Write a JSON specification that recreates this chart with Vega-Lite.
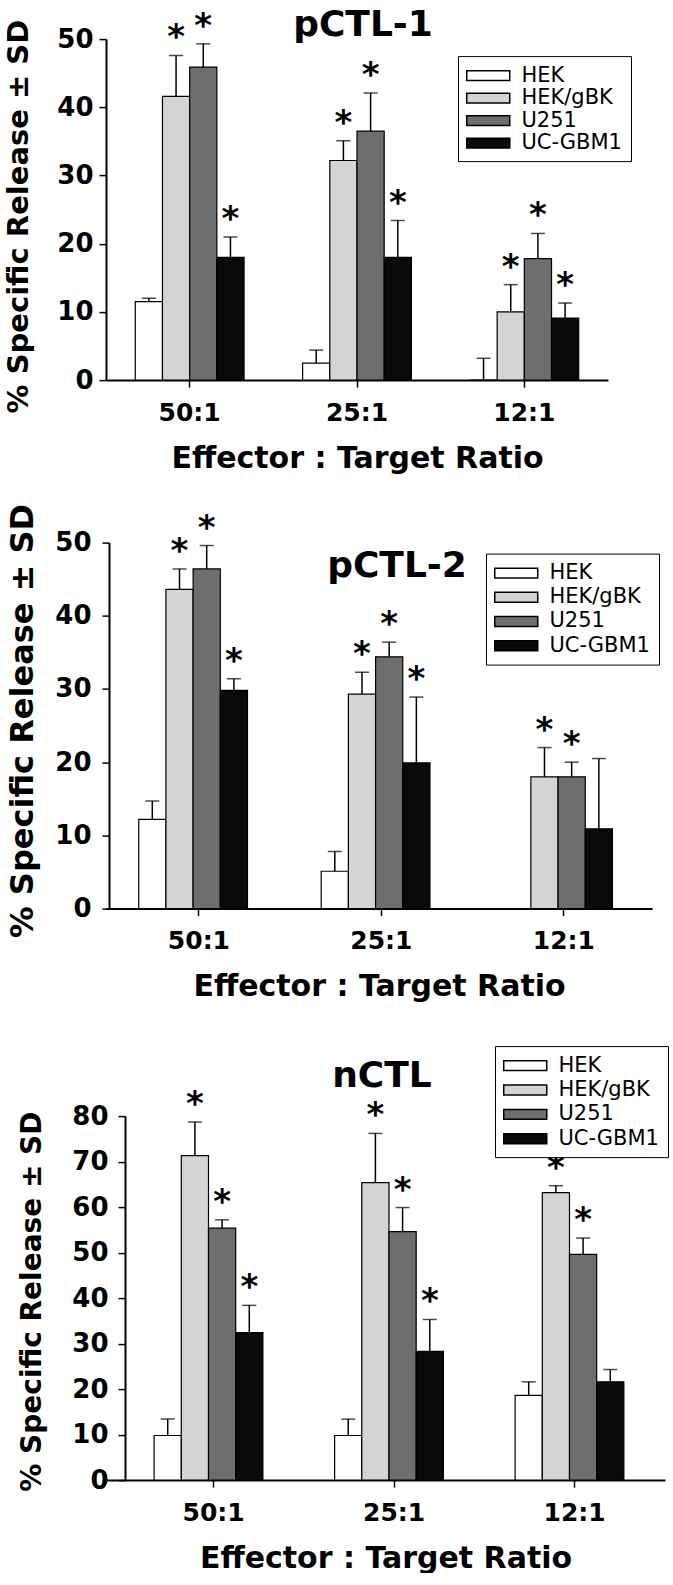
{
  "$schema": "https://vega.github.io/schema/vega-lite/v6.json",
  "background": "white",
  "padding": {"left": 4, "top": 6.1, "right": 0, "bottom": 0},
  "spacing": 29.5,
  "columns": 1,
  "align": "none",
  "resolve": {"scale": {"fill": "independent"}, "legend": {"fill": "independent"}},
  "config": {
    "view": {"stroke": null},
    "font": "DejaVu Sans",
    "axis": {
      "domainColor": "black", "domainWidth": 2, "tickColor": "black", "tickWidth": 1.5, "tickSize": 7,
      "labelFont": "DejaVu Sans", "labelFontWeight": "bold", "labelColor": "black",
      "titleFont": "DejaVu Sans", "titleFontWeight": "bold", "titleColor": "black", "grid": false
    },
    "axisX": {"labelAngle": 0, "labelFontSize": 25, "labelPadding": 13, "titleFontSize": 30, "titlePadding": 18},
    "axisY": {"labelFontSize": 26},
    "legend": {
      "title": null, "symbolType": "M-1,-0.46H3V0.46H-1Z", "symbolSize": 462,
      "symbolStrokeColor": "black", "symbolStrokeWidth": 1.5, "labelFont": "DejaVu Sans",
      "labelFontSize": 21, "labelColor": "black", "labelOffset": 32.5, "padding": 8,
      "strokeColor": "black", "fillColor": "white", "symbolOpacity": 1
    },
    "title": {"font": "DejaVu Sans", "fontWeight": "bold", "fontSize": 36, "color": "black", "baseline": "alphabetic", "anchor": "middle"}
  },
  "datasets": {
    "p1": [
      {"ratio": "50:1", "target": "HEK", "value": 11.5, "upper": 12.0, "star": ""},
      {"ratio": "50:1", "target": "HEK/gBK", "value": 41.6, "upper": 47.6, "star": "*"},
      {"ratio": "50:1", "target": "U251", "value": 45.9, "upper": 49.3, "star": "*"},
      {"ratio": "50:1", "target": "UC-GBM1", "value": 18.0, "upper": 21.0, "star": "*"},
      {"ratio": "25:1", "target": "HEK", "value": 2.5, "upper": 4.4, "star": ""},
      {"ratio": "25:1", "target": "HEK/gBK", "value": 32.2, "upper": 35.1, "star": "*"},
      {"ratio": "25:1", "target": "U251", "value": 36.5, "upper": 42.1, "star": "*"},
      {"ratio": "25:1", "target": "UC-GBM1", "value": 18.0, "upper": 23.4, "star": "*"},
      {"ratio": "12:1", "target": "HEK", "value": 0, "upper": 3.2, "star": ""},
      {"ratio": "12:1", "target": "HEK/gBK", "value": 10.0, "upper": 14.0, "star": "*"},
      {"ratio": "12:1", "target": "U251", "value": 17.8, "upper": 21.5, "star": "*"},
      {"ratio": "12:1", "target": "UC-GBM1", "value": 9.1, "upper": 11.3, "star": "*"}
    ],
    "p2": [
      {"ratio": "50:1", "target": "HEK", "value": 12.2, "upper": 14.7, "star": ""},
      {"ratio": "50:1", "target": "HEK/gBK", "value": 43.6, "upper": 46.4, "star": "*"},
      {"ratio": "50:1", "target": "U251", "value": 46.4, "upper": 49.6, "star": "*"},
      {"ratio": "50:1", "target": "UC-GBM1", "value": 29.8, "upper": 31.4, "star": "*"},
      {"ratio": "25:1", "target": "HEK", "value": 5.1, "upper": 7.8, "star": ""},
      {"ratio": "25:1", "target": "HEK/gBK", "value": 29.3, "upper": 32.3, "star": "*"},
      {"ratio": "25:1", "target": "U251", "value": 34.4, "upper": 36.4, "star": "*"},
      {"ratio": "25:1", "target": "UC-GBM1", "value": 19.9, "upper": 28.9, "star": "*"},
      {"ratio": "12:1", "target": "HEK/gBK", "value": 18.0, "upper": 22.0, "star": "*"},
      {"ratio": "12:1", "target": "U251", "value": 18.0, "upper": 20.0, "star": "*"},
      {"ratio": "12:1", "target": "UC-GBM1", "value": 10.9, "upper": 20.5, "star": ""}
    ],
    "p3": [
      {"ratio": "50:1", "target": "HEK", "value": 9.8, "upper": 13.4, "star": ""},
      {"ratio": "50:1", "target": "HEK/gBK", "value": 71.3, "upper": 78.7, "star": "*"},
      {"ratio": "50:1", "target": "U251", "value": 55.4, "upper": 57.2, "star": "*"},
      {"ratio": "50:1", "target": "UC-GBM1", "value": 32.4, "upper": 38.4, "star": "*"},
      {"ratio": "25:1", "target": "HEK", "value": 9.8, "upper": 13.4, "star": ""},
      {"ratio": "25:1", "target": "HEK/gBK", "value": 65.4, "upper": 76.2, "star": "*"},
      {"ratio": "25:1", "target": "U251", "value": 54.6, "upper": 59.9, "star": "*"},
      {"ratio": "25:1", "target": "UC-GBM1", "value": 28.3, "upper": 35.3, "star": "*"},
      {"ratio": "12:1", "target": "HEK", "value": 18.6, "upper": 21.6, "star": ""},
      {"ratio": "12:1", "target": "HEK/gBK", "value": 63.2, "upper": 64.7, "star": "*"},
      {"ratio": "12:1", "target": "U251", "value": 49.6, "upper": 53.2, "star": "*"},
      {"ratio": "12:1", "target": "UC-GBM1", "value": 21.6, "upper": 24.3, "star": ""}
    ]
  },
  "concat": [
    {
      "data": {"name": "p1"},
      "width": 502, "height": 341,
      "title": {"text": "pCTL-1", "dx": 6, "offset": -34},
      "encoding": {
        "x": {"field": "ratio", "type": "nominal", "sort": ["50:1", "25:1", "12:1"],
              "scale": {"paddingInner": 0.35, "paddingOuter": 0.175},
              "axis": {"title": "Effector : Target Ratio"}},
        "xOffset": {"field": "target", "type": "nominal", "scale": {"domain": ["HEK", "HEK/gBK", "U251", "UC-GBM1"]}}
      },
      "layer": [
        {"mark": {"type": "bar", "stroke": "black", "strokeWidth": 1.2},
         "encoding": {
           "y": {"field": "value", "type": "quantitative", "scale": {"domain": [0, 50]},
                 "axis": {"values": [0, 10, 20, 30, 40, 50], "labelPadding": 6, "titlePadding": 23, "titleFontSize": 29, "titleY": 177, "title": "% Specific Release ± SD"}},
           "fill": {"field": "target", "type": "nominal",
                    "scale": {"domain": ["HEK", "HEK/gBK", "U251", "UC-GBM1"], "range": ["#ffffff", "#d4d4d4", "#6e6e6e", "#0a0a0a"]},
                    "legend": {"orient": "none", "legendX": 352, "legendY": 17, "rowPadding": 0.5}}
         }},
        {"mark": {"type": "rule", "color": "black", "strokeWidth": 1.5},
         "encoding": {"y": {"field": "value", "type": "quantitative"}, "y2": {"field": "upper"}}},
        {"mark": {"type": "tick", "orient": "horizontal", "color": "black", "size": 14, "thickness": 1.5},
         "encoding": {"y": {"field": "upper", "type": "quantitative"}}},
        {"mark": {"type": "text", "font": "DejaVu Sans", "fontWeight": "bold", "fontSize": 34, "baseline": "alphabetic", "dy": -7, "color": "black"},
         "encoding": {"y": {"field": "upper", "type": "quantitative"}, "text": {"field": "star"}}}
      ]
    },
    {
      "data": {"name": "p2"},
      "width": 546, "height": 366,
      "title": {"text": "pCTL-2", "dx": 18, "offset": -82},
      "encoding": {
        "x": {"field": "ratio", "type": "nominal", "sort": ["50:1", "25:1", "12:1"],
              "scale": {"paddingInner": 0.34, "paddingOuter": 0.166, "align": 0.54},
              "axis": {"title": ["Effector : Target Ratio", ""], "titleLineHeight": 14}},
        "xOffset": {"field": "target", "type": "nominal", "scale": {"domain": ["HEK", "HEK/gBK", "U251", "UC-GBM1"]}}
      },
      "layer": [
        {"mark": {"type": "bar", "stroke": "black", "strokeWidth": 1.2},
         "encoding": {
           "y": {"field": "value", "type": "quantitative", "scale": {"domain": [0, 50]},
                 "axis": {"values": [0, 10, 20, 30, 40, 50], "offset": -3, "labelPadding": 11, "titlePadding": 15, "titleFontSize": 32, "titleY": 178, "title": "% Specific Release ± SD"}},
           "fill": {"field": "target", "type": "nominal",
                    "scale": {"domain": ["HEK", "HEK/gBK", "U251", "UC-GBM1"], "range": ["#ffffff", "#d4d4d4", "#6e6e6e", "#0a0a0a"]},
                    "legend": {"orient": "none", "legendX": 380, "legendY": 11, "rowPadding": 2.2}}
         }},
        {"mark": {"type": "rule", "color": "black", "strokeWidth": 1.5},
         "encoding": {"y": {"field": "value", "type": "quantitative"}, "y2": {"field": "upper"}}},
        {"mark": {"type": "tick", "orient": "horizontal", "color": "black", "size": 14, "thickness": 1.5},
         "encoding": {"y": {"field": "upper", "type": "quantitative"}}},
        {"mark": {"type": "text", "font": "DejaVu Sans", "fontWeight": "bold", "fontSize": 34, "baseline": "alphabetic", "dy": -7, "color": "black"},
         "encoding": {"y": {"field": "upper", "type": "quantitative"}, "text": {"field": "star"}}}
      ]
    },
    {
      "data": {"name": "p3"},
      "width": 559, "height": 364,
      "title": {"text": "nCTL", "dx": -3.5, "offset": -49.3},
      "encoding": {
        "x": {"field": "ratio", "type": "nominal", "sort": ["50:1", "25:1", "12:1"],
              "scale": {"paddingInner": 0.34, "paddingOuter": 0.2185, "align": 0.61},
              "axis": {"title": "Effector : Target Ratio"}},
        "xOffset": {"field": "target", "type": "nominal", "scale": {"domain": ["HEK", "HEK/gBK", "U251", "UC-GBM1"]}}
      },
      "layer": [
        {"mark": {"type": "bar", "stroke": "black", "strokeWidth": 1.2},
         "encoding": {
           "y": {"field": "value", "type": "quantitative", "scale": {"domain": [0, 80]},
                 "axis": {"values": [0, 10, 20, 30, 40, 50, 60, 70, 80], "offset": -19, "labelPadding": 10, "titlePadding": 25, "titleFontSize": 28, "titleY": 185, "title": "% Specific Release ± SD"}},
           "fill": {"field": "target", "type": "nominal",
                    "scale": {"domain": ["HEK", "HEK/gBK", "U251", "UC-GBM1"], "range": ["#ffffff", "#d4d4d4", "#6e6e6e", "#0a0a0a"]},
                    "legend": {"orient": "none", "legendX": 389, "legendY": -70, "rowPadding": 2.4}}
         }},
        {"mark": {"type": "rule", "color": "black", "strokeWidth": 1.5},
         "encoding": {"y": {"field": "value", "type": "quantitative"}, "y2": {"field": "upper"}}},
        {"mark": {"type": "tick", "orient": "horizontal", "color": "black", "size": 14, "thickness": 1.5},
         "encoding": {"y": {"field": "upper", "type": "quantitative"}}},
        {"mark": {"type": "text", "font": "DejaVu Sans", "fontWeight": "bold", "fontSize": 34, "baseline": "alphabetic", "dy": -7, "color": "black"},
         "encoding": {"y": {"field": "upper", "type": "quantitative"}, "text": {"field": "star"}}}
      ]
    }
  ]
}
